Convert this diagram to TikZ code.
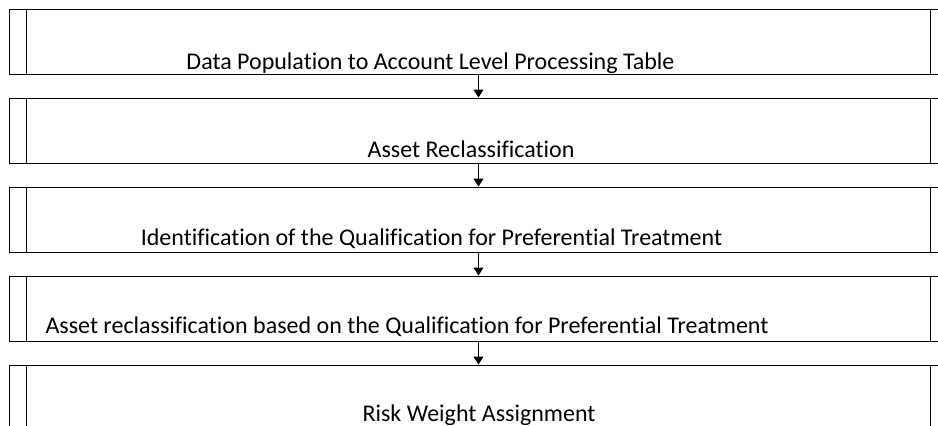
\documentclass[tikz,border=0pt]{standalone}
\usepackage{fontspec}
\setmainfont{Carlito}[Ligatures=NoCommon]
\usetikzlibrary{arrows.meta, positioning}

\begin{document}
\begin{tikzpicture}[x=1pt, y=-1pt,
  every node/.style={font=\fontsize{24}{28}\selectfont},
  procbox/.style={draw, line width=1pt, minimum width=939pt, minimum height=65pt, inner sep=0pt},
  flow/.style={-{Triangle[width=10pt,length=8pt]}, line width=1pt}]

\useasboundingbox (0,0) rectangle (938,426);

% Boites du processus
\node[procbox] (pop) at (478.5,41.5) {};
\node[procbox, below=23pt of pop] (reclass) {};
\node[procbox, below=23pt of reclass] (qualif) {};
\node[procbox, below=23pt of qualif] (reclassq) {};
\node[procbox, below=23pt of reclassq] (riskw) {};

% Barres laterales
\foreach \n in {pop, reclass, qualif, reclassq, riskw} {
  \draw[line width=1pt] ([xshift=18pt]\n.north west) -- ([xshift=18pt]\n.south west);
  \draw[line width=1pt] ([xshift=-18pt]\n.north east) -- ([xshift=-18pt]\n.south east);
}

% Textes
\node[anchor=base] (pop-txt) at (430.5,69) {Data Population to Account Level Processing Table};
\node[anchor=base] (reclass-txt) at (471,157) {Asset Reclassification};
\node[anchor=base] (qualif-txt) at (431.5,245) {Identification of the Qualification for Preferential Treatment};
\node[anchor=base] (reclassq-txt) at (407,333) {Asset reclassification based on the Qualification for Preferential Treatment};
\node[anchor=base] (riskw-txt) at (479,421) {Risk Weight Assignment};

% Fleches
\draw[flow] (pop) -- (reclass);
\draw[flow] (reclass) -- (qualif);
\draw[flow] (qualif) -- (reclassq);
\draw[flow] (reclassq) -- (riskw);

\end{tikzpicture}
\end{document}
